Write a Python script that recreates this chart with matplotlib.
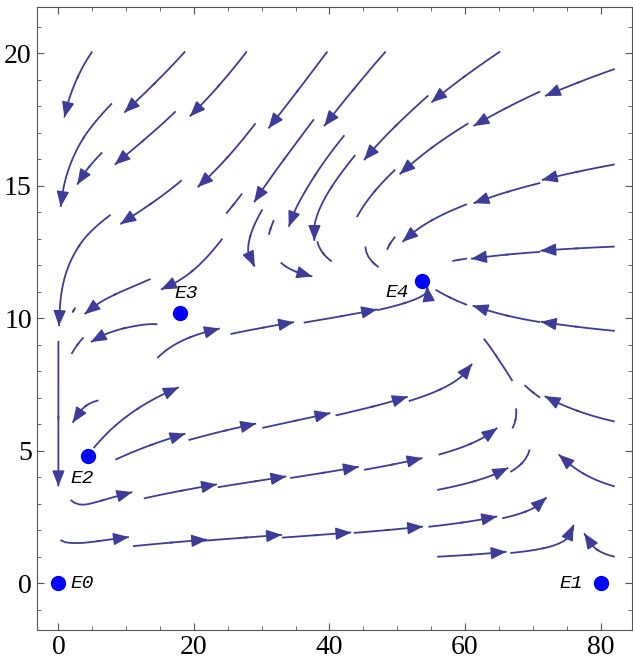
import numpy as np
import matplotlib.pyplot as plt
from matplotlib.patches import FancyArrowPatch

# equilibria shown as blue dots
eq_names = ['E0', 'E1', 'E2', 'E3', 'E4']
eq_x = [0.0, 80.0, 4.4, 17.9, 53.7]
eq_y = [0.0, 0.0, 4.8, 10.2, 11.4]

# prey nullcline (where the flow turns vertical)
prey_null_x = [0, 2.5, 4.4, 7, 10, 14, 18, 28, 38, 46, 53.7, 60, 64, 67.5, 70.5, 73, 77, 80, 86]
prey_null_y = [4.0, 4.2, 4.8, 6.3, 7.6, 9.0, 10.2, 12.6, 13.2, 12.7, 11.4, 9.3, 8.0, 6.5, 5.0, 3.6, 1.8, 0.0, -3.5]

# predator nullcline
pred_null_x = [0, 3, 4.4, 7, 10, 14, 18, 30, 53.7, 86]
pred_null_y = [-1.0, 1.8, 4.8, 7.5, 8.9, 9.8, 10.2, 10.8, 11.4, 11.8]

c_pred = 0.012      # relative speed of predator equation
h_sat = 3.0         # saturation of prey term

# stream line pieces: start, end (for its length), arrow head at the end or not
seg_x0 = [5.0, 18.7, 7.9, 27.8, 17.3, 6.45, 39.7, 29.1, 18.2, 7.7,
          48.3, 37.7, 27.1, 65.2, 54.6, 43.8, 82.1, 71.1, 60.5, 49.7,
          82.1, 71.1, 60.3, 49.7, 82.1, 71.1, 60.3, 82.1, 71.1, 60.3,
          82.1, 71.1, 67.0, 82.1, 82.1,
          42.2, 31.8, 30.1, 24.2, 13.6, 2.5, 32.8, 38.2, 45.3,
          0.0, 14.6, 3.7, 5.2, 14.6, 25.4, 36.2, 47.0, 5.9,
          8.4, 19.2, 30.1, 40.9, 51.7,
          1.8, 12.6, 23.5, 34.2, 45.1, 56.1, 67.0,
          0.3, 11.0, 21.3, 33.0, 43.6, 54.6, 65.5,
          55.9, 66.7, 55.9, 66.7]
seg_y0 = [20.06, 20.06, 18.1, 20.06, 17.8, 16.25, 20.06, 17.35, 15.2, 13.9,
          20.06, 17.5, 14.7, 20.06, 18.4, 16.15, 19.4, 18.55, 17.35, 15.6,
          15.8, 15.1, 14.3, 13.07, 12.7, 12.5, 12.25, 9.52, 9.85, 10.5,
          6.1, 7.0, 7.63, 3.65, 1.0,
          16.9, 13.7, 14.1, 13.0, 11.48, 10.4, 12.1, 12.9, 12.7,
          9.14, 9.77, 9.27, 5.1, 8.5, 9.4, 9.83, 10.3, 6.9,
          4.66, 5.4, 5.86, 6.33, 6.87,
          3.14, 3.2, 3.62, 3.97, 4.28, 4.85, 5.84,
          1.63, 1.4, 1.6, 1.72, 1.9, 2.13, 2.45,
          3.52, 4.2, 1.0, 1.14]
seg_x1 = [0.04, 9.2, 0.0, 18.7, 7.7, 2.0, 30.1, 19.5, 8.7, 0.0,
          38.7, 28.3, 24.4, 55.4, 45.0, 36.7, 72.1, 61.3, 50.7, 43.6,
          72.1, 61.3, 51.0, 48.5, 72.1, 61.3, 58.1, 72.1, 61.3, 55.9,
          72.1, 68.7, 63.3, 74.1, 77.5,
          32.8, 31.0, 25.6, 14.6, 3.7, 1.5, 37.9, 41.1, 47.8,
          0.0, 5.0, 1.3, 13.6, 23.7, 34.5, 46.1, 54.9, 1.5,
          18.3, 28.8, 39.9, 51.0, 61.5,
          10.9, 22.7, 33.3, 44.1, 53.4, 65.0, 68.0,
          10.1, 21.0, 32.0, 42.6, 53.4, 64.5, 72.4,
          65.7, 70.4, 65.7, 76.6]
seg_y1 = [17.85, 18.4, 14.4, 18.2, 16.4, 15.45, 17.6, 15.45, 14.1, 9.9,
          17.7, 14.95, 14.1, 18.5, 16.4, 13.3, 18.7, 17.5, 15.8, 14.1,
          15.3, 14.6, 13.3, 12.6, 12.55, 12.3, 12.2, 9.77, 10.3, 11.1,
          6.87, 7.5, 9.14, 4.72, 1.94,
          14.07, 13.1, 12.3, 11.6, 10.7, 10.2, 11.7, 12.2, 12.0,
          4.15, 9.4, 8.8, 8.26, 9.27, 9.73, 10.2, 11.0, 6.36,
          5.35, 5.73, 6.24, 6.78, 7.8,
          3.14, 3.59, 3.9, 4.22, 4.66, 5.46, 6.53,
          1.38, 1.56, 1.69, 1.88, 2.07, 2.41, 2.95,
          4.15, 4.9, 1.12, 1.75]
seg_head = [1, 1, 1, 1, 1, 1, 1, 1, 1, 1,
            1, 1, 0, 1, 1, 1, 1, 1, 1, 0,
            1, 1, 1, 0, 1, 1, 0, 1, 1, 0,
            1, 0, 0, 1, 1,
            1, 0, 1, 1, 1, 0, 1, 0, 0,
            1, 1, 0, 1, 1, 1, 1, 1, 1,
            1, 1, 1, 1, 1,
            1, 1, 1, 1, 1, 1, 0,
            1, 1, 1, 1, 1, 1, 1,
            1, 0, 1, 1]

x_lo, x_hi = -3.2, 84.7
y_lo, y_hi = -1.75, 21.75
xs = np.linspace(x_lo, x_hi, 300)
ys = np.linspace(y_lo, y_hi, 300)
X, Y = np.meshgrid(xs, ys)
F = np.interp(X, prey_null_x, prey_null_y)
Gx = np.interp(X, pred_null_x, pred_null_y)
U = X / (np.abs(X) + h_sat) * (F - Y)
V = c_pred * Y * (Gx - Y)

plt.rcParams['font.family'] = 'Liberation Serif'
fig = plt.figure(figsize=(6.33, 6.67), dpi=100)
ax = fig.add_axes([0.058, 0.056, 0.941, 0.934])

stream_col = (0.24, 0.24, 0.6)
for x0, y0, x1, y1, head in zip(seg_x0, seg_y0, seg_x1, seg_y1, seg_head):
    # length of the piece in axes units, as streamplot measures it
    length = 1.1 * np.hypot((x1 - x0) / (x_hi - x_lo), (y1 - y0) / (y_hi - y_lo))
    # integrate the reversed field backwards: keeps the start point, tip comes first
    try:
        sp = ax.streamplot(X, Y, -U, -V, start_points=[[x0, y0]], density=4,
                           integration_direction='backward', color=stream_col,
                           linewidth=1.3, arrowstyle='-', maxlength=length,
                           minlength=0.001, broken_streamlines=False)
    except IndexError:
        continue
    segs = sp.lines.get_segments()
    if head and len(segs) and len(segs[0]) > 1:
        pts = segs[0]
        tip = pts[0]
        tail = pts[min(3, len(pts) - 1)]
        ax.add_patch(FancyArrowPatch(tail, tip, arrowstyle='-|>,head_length=0.6,head_width=0.24',
                                     mutation_scale=16, shrinkA=0, shrinkB=0,
                                     color=stream_col, lw=1.0))

ax.plot(eq_x, eq_y, 'o', color='blue', markersize=10, zorder=5)
offsets = {'E0': (17, 0), 'E1': (-21, 0), 'E2': (-4, -16), 'E3': (5, 14), 'E4': (-18, -8)}
for name, x, y in zip(eq_names, eq_x, eq_y):
    dx, dy = offsets[name]
    ax.annotate(name, (x, y), xytext=(dx, dy), textcoords='offset points',
                ha='center', va='center', fontsize=14, style='italic',
                family='Liberation Mono')

ax.set_xlim(x_lo, x_hi)
ax.set_ylim(y_lo, y_hi)
ax.set_xticks([0, 20, 40, 60, 80])
ax.set_yticks([0, 5, 10, 15, 20])
ax.set_xticks(np.arange(0, 85, 5), minor=True)
ax.set_yticks(np.arange(-1, 22, 1), minor=True)
ax.tick_params(which='both', direction='in', top=True, right=True, color='#555555')
ax.tick_params(which='major', length=5, labelsize=20)
ax.tick_params(which='minor', length=3)
for s in ax.spines.values():
    s.set_color('#555555')

fig.savefig('out.png')
